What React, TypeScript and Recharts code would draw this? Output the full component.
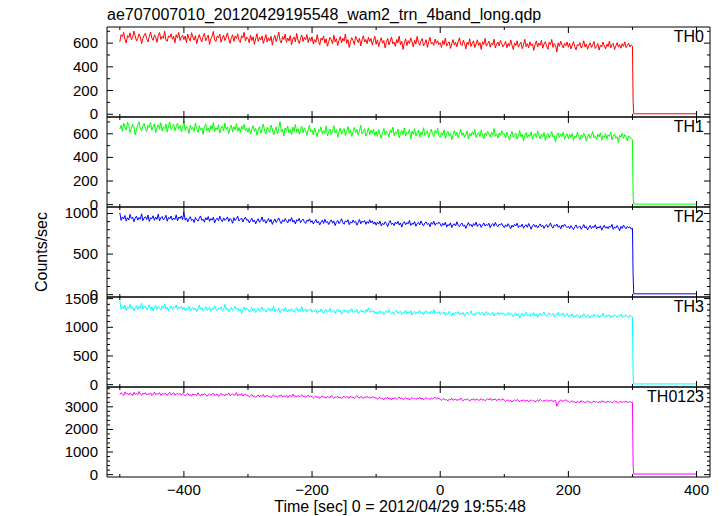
import React from 'react';
import { LineChart, Line, XAxis, YAxis } from 'recharts';

// light curve: 2 s bins from -500 s to 300 s, plus the tail after the drop
const T_START = -500;
const T_END = 300;
const TAIL_T = [301, 302, 400];

const TH0 = [
  612, 671, 655, 690, 634, 601, 663, 648, 687, 629, 645, 702, 660, 618, 639, 677, 652, 596, 641, 668, 683, 637, 610, 655, 694, 642, 623, 670, 651, 606, 664, 689, 631, 657, 640, 700, 626, 615, 662, 648, 679, 633, 658, 604, 671, 645, 690, 622, 653, 667,
  630, 659, 604, 676, 642, 617, 688, 651, 625, 663, 596, 640, 672, 634, 611, 657, 683, 620, 646, 668, 589, 637, 655, 699, 628, 613, 661, 644, 675, 607, 639, 666, 621, 652, 686, 633, 598, 647, 670, 615, 659, 640, 678, 624, 606, 662, 645, 691, 618, 650,
  641, 603, 667, 622, 654, 590, 636, 679, 615, 648, 627, 661, 598, 633, 672, 609, 645, 620, 657, 583, 638, 666, 612, 649, 694, 624, 601, 655, 631, 676, 607, 643, 619, 664, 586, 635, 652, 610, 681, 626, 597, 640, 668, 614, 650, 629, 673, 605, 646, 618,
  653, 592, 630, 608, 671, 619, 584, 642, 625, 660, 601, 637, 574, 615, 649, 628, 594, 666, 611, 638, 580, 622, 655, 603, 641, 617, 677, 598, 629, 563, 612, 646, 621, 588, 658, 634, 605, 643, 576, 627, 662, 609, 631, 595, 650, 614, 639, 585, 624, 657,
  590, 628, 571, 613, 646, 598, 622, 560, 607, 639, 585, 617, 652, 594, 609, 573, 631, 602, 660, 588, 615, 547, 603, 636, 579, 621, 597, 644, 610, 568, 625, 591, 657, 604, 582, 618, 638, 576, 600, 629, 565, 612, 648, 593, 606, 581, 634, 599, 620, 587,
  603, 564, 621, 588, 642, 575, 598, 611, 556, 594, 630, 583, 607, 569, 615, 645, 590, 578, 624, 597, 551, 609, 586, 636, 572, 600, 619, 563, 593, 628, 580, 604, 547, 612, 589, 640, 574, 596, 617, 566, 601, 585, 633, 559, 592, 610, 577, 622, 595, 568,
  589, 615, 561, 598, 574, 627, 583, 546, 602, 579, 620, 566, 591, 608, 553, 585, 632, 571, 596, 560, 611, 578, 594, 539, 587, 619, 569, 601, 582, 625, 557, 593, 612, 575, 548, 606, 588, 631, 564, 597, 580, 526, 603, 572, 616, 586, 559, 599, 577, 610,
  565, 598, 551, 583, 612, 570, 544, 589, 576, 605, 558, 581, 620, 567, 593, 549, 578, 602, 563, 586, 615, 555, 574, 597, 541, 584, 568, 609, 579, 552, 591, 571, 617, 560, 587, 599, 546, 575, 604, 566, 588, 557, 596, 573, 611, 562, 580, 601, 569, 585,
  575,
];
const TH1 = [
  640, 672, 621, 690, 655, 633, 699, 668, 612, 647, 681, 660, 590, 638, 676, 702, 649, 626, 665, 687, 643, 618, 671, 655, 696, 630, 662, 684, 609, 651, 677, 639, 694, 622, 658, 645, 683, 614, 667, 700, 636, 652, 679, 625, 661, 689, 642, 670, 617, 656,
  708, 628, 661, 645, 603, 674, 637, 655, 620, 689, 642, 611, 668, 631, 650, 596, 663, 682, 624, 647, 613, 670, 639, 695, 618, 652, 634, 677, 606, 644, 665, 625, 691, 638, 657, 600, 648, 673, 616, 660, 633, 686, 621, 654, 610, 667, 640, 679, 627, 646,
  611, 652, 598, 637, 670, 619, 645, 587, 629, 660, 604, 641, 683, 622, 596, 655, 633, 612, 674, 640, 589, 626, 658, 601, 645, 702, 618, 637, 580, 649, 625, 666, 606, 634, 592, 657, 621, 679, 613, 643, 598, 631, 664, 608, 650, 627, 586, 639, 672, 615,
  630, 589, 647, 612, 574, 636, 620, 659, 597, 628, 603, 665, 582, 618, 641, 593, 625, 668, 607, 635, 571, 614, 650, 596, 627, 644, 585, 616, 662, 601, 633, 577, 620, 654, 609, 638, 590, 624, 672, 599, 617, 643, 580, 612, 651, 594, 629, 605, 640, 586,
  619, 577, 636, 598, 561, 612, 645, 589, 624, 603, 571, 633, 608, 655, 584, 617, 596, 640, 565, 606, 628, 591, 649, 579, 613, 600, 637, 558, 622, 595, 643, 582, 609, 631, 570, 616, 593, 651, 586, 605, 624, 567, 611, 639, 598, 576, 627, 604, 646, 583,
  572, 610, 588, 633, 561, 599, 621, 579, 605, 548, 592, 627, 583, 614, 566, 601, 640, 586, 609, 570, 596, 624, 555, 603, 581, 617, 592, 638, 568, 598, 611, 576, 630, 589, 557, 606, 584, 622, 597, 571, 613, 590, 645, 578, 600, 563, 608, 587, 626, 593,
  599, 563, 614, 580, 547, 592, 620, 571, 588, 605, 556, 583, 628, 574, 596, 540, 587, 610, 566, 593, 578, 617, 551, 590, 602, 569, 625, 584, 558, 598, 575, 611, 544, 586, 603, 565, 594, 619, 572, 581, 530, 589, 607, 568, 597, 576, 613, 553, 585, 600,
  558, 594, 571, 603, 545, 580, 566, 612, 577, 549, 590, 568, 605, 583, 537, 575, 598, 561, 587, 620, 564, 579, 552, 596, 573, 608, 546, 585, 569, 601, 557, 591, 578, 614, 548, 582, 597, 563, 576, 526, 588, 571, 606, 559, 593, 574, 541, 584, 567, 562,
  550,
];
const TH2 = [
  1010, 915, 958, 932, 975, 906, 947, 921, 989, 938, 954, 899, 943, 967, 918, 951, 930, 996, 912, 944, 961, 925, 981, 903, 949, 936, 972, 916, 955, 929, 992, 910, 946, 963, 921, 940, 978, 905, 952, 934, 968, 917, 945, 926, 983, 909, 957, 938, 970, 923,
  1015, 918, 946, 897, 934, 960, 912, 928, 889, 951, 925, 906, 943, 970, 915, 930, 893, 948, 921, 962, 904, 936, 918, 954, 885, 927, 941, 910, 967, 923, 899, 945, 916, 932, 958, 902, 939, 921, 880, 949, 913, 935, 966, 907, 926, 944, 896, 931, 955, 917,
  925, 884, 913, 941, 897, 920, 873, 909, 936, 892, 915, 957, 901, 924, 880, 911, 938, 895, 927, 866, 906, 933, 889, 918, 946, 903, 875, 921, 899, 937, 910, 883, 928, 905, 950, 894, 916, 870, 922, 908, 940, 887, 913, 931, 898, 877, 919, 904, 935, 891,
  912, 871, 899, 926, 883, 905, 859, 894, 918, 877, 930, 888, 902, 864, 897, 921, 880, 908, 852, 891, 915, 874, 901, 935, 885, 868, 910, 893, 924, 862, 898, 881, 919, 889, 904, 856, 887, 927, 873, 906, 892, 914, 866, 900, 878, 923, 884, 909, 869, 896,
  856, 893, 869, 907, 847, 880, 862, 898, 875, 839, 886, 912, 865, 881, 851, 895, 870, 903, 858, 884, 832, 877, 899, 861, 888, 873, 915, 853, 879, 866, 901, 842, 876, 890, 859, 908, 871, 848, 883, 896, 864, 878, 837, 889, 868, 905, 855, 882, 872, 894,
  870, 841, 879, 856, 892, 833, 864, 850, 885, 827, 862, 873, 846, 898, 855, 838, 869, 881, 842, 860, 816, 857, 888, 849, 866, 835, 876, 853, 894, 840, 863, 871, 829, 858, 883, 845, 867, 852, 880, 824, 861, 875, 843, 890, 854, 837, 868, 859, 878, 846,
  826, 861, 838, 874, 845, 812, 856, 833, 867, 849, 880, 827, 851, 839, 869, 818, 847, 862, 830, 876, 841, 805, 853, 866, 835, 858, 822, 848, 872, 837, 855, 816, 844, 864, 829, 852, 884, 840, 820, 859, 846, 870, 831, 849, 811, 857, 836, 868, 843, 825,
  842, 813, 850, 826, 801, 837, 859, 819, 833, 845, 806, 830, 864, 821, 839, 798, 828, 852, 815, 841, 827, 861, 809, 835, 822, 848, 794, 831, 855, 818, 838, 812, 846, 829, 866, 804, 834, 820, 851, 825, 787, 840, 816, 856, 830, 811, 843, 824, 836, 808,
  818,
];
const TH3 = [
  1465, 1310, 1362, 1325, 1388, 1297, 1350, 1332, 1401, 1318, 1356, 1289, 1343, 1377, 1308, 1361, 1329, 1420, 1315, 1348, 1372, 1302, 1338, 1395, 1321, 1357, 1285, 1346, 1381, 1312, 1364, 1335, 1298, 1369, 1326, 1410, 1317, 1352, 1290, 1343, 1379, 1306, 1358, 1333, 1392, 1314, 1349, 1327, 1366, 1301,
  1352, 1290, 1331, 1307, 1368, 1283, 1324, 1346, 1299, 1337, 1272, 1319, 1385, 1305, 1341, 1288, 1326, 1360, 1296, 1314, 1349, 1278, 1330, 1302, 1372, 1311, 1293, 1340, 1316, 1357, 1281, 1322, 1398, 1300, 1335, 1269, 1318, 1345, 1292, 1327, 1364, 1306, 1338, 1284, 1323, 1242, 1309, 1351, 1297, 1333,
  1315, 1268, 1306, 1341, 1284, 1322, 1257, 1299, 1330, 1276, 1311, 1352, 1290, 1318, 1263, 1304, 1337, 1281, 1325, 1294, 1370, 1272, 1309, 1286, 1333, 1251, 1297, 1320, 1278, 1346, 1302, 1265, 1313, 1289, 1327, 1295, 1260, 1308, 1339, 1280, 1316, 1292, 1355, 1274, 1303, 1324, 1269, 1310, 1287, 1321,
  1259, 1297, 1271, 1310, 1243, 1284, 1266, 1322, 1279, 1236, 1291, 1305, 1262, 1287, 1331, 1254, 1276, 1299, 1240, 1283, 1315, 1268, 1294, 1229, 1275, 1308, 1261, 1289, 1247, 1302, 1280, 1326, 1257, 1285, 1270, 1313, 1238, 1277, 1296, 1264, 1288, 1250, 1306, 1272, 1341, 1258, 1282, 1267, 1300, 1245,
  1274, 1232, 1265, 1291, 1244, 1278, 1220, 1257, 1286, 1249, 1306, 1262, 1238, 1271, 1225, 1259, 1297, 1241, 1268, 1282, 1227, 1263, 1250, 1301, 1236, 1270, 1245, 1289, 1215, 1256, 1279, 1233, 1266, 1252, 1294, 1240, 1261, 1219, 1273, 1288, 1247, 1264, 1230, 1283, 1255, 1310, 1239, 1267, 1248, 1276,
  1221, 1259, 1234, 1270, 1206, 1245, 1226, 1281, 1238, 1199, 1252, 1217, 1263, 1240, 1275, 1211, 1247, 1229, 1258, 1193, 1236, 1266, 1224, 1249, 1287, 1215, 1242, 1203, 1256, 1232, 1271, 1220, 1244, 1260, 1208, 1239, 1278, 1226, 1251, 1214, 1235, 1267, 1197, 1246, 1228, 1262, 1218, 1253, 1233, 1241,
  1235, 1196, 1228, 1257, 1207, 1243, 1219, 1184, 1226, 1250, 1201, 1238, 1160, 1214, 1246, 1192, 1230, 1263, 1210, 1224, 1187, 1240, 1216, 1255, 1199, 1233, 1175, 1221, 1248, 1205, 1237, 1268, 1212, 1190, 1229, 1252, 1203, 1218, 1244, 1181, 1225, 1209, 1260, 1194, 1231, 1215, 1247, 1186, 1222, 1239,
  1182, 1216, 1193, 1231, 1170, 1205, 1188, 1226, 1199, 1161, 1211, 1185, 1238, 1196, 1174, 1219, 1203, 1157, 1208, 1190, 1229, 1178, 1201, 1215, 1166, 1206, 1186, 1242, 1195, 1172, 1213, 1191, 1224, 1163, 1200, 1183, 1220, 1197, 1176, 1210, 1189, 1233, 1168, 1204, 1181, 1217, 1192, 1159, 1207, 1194,
  1180,
];
const TH0123 = [
  3540, 3625, 3580, 3505, 3660, 3560, 3598, 3520, 3612, 3575, 3488, 3640, 3550, 3595, 3530, 3680, 3565, 3510, 3604, 3572, 3635, 3525, 3590, 3545, 3618, 3498, 3570, 3650, 3535, 3588, 3556, 3627, 3502, 3583, 3545, 3610, 3568, 3495, 3598, 3641, 3528, 3577, 3620, 3515, 3562, 3605, 3542, 3590, 3508, 3585,
  3560, 3482, 3545, 3601, 3510, 3538, 3470, 3575, 3520, 3552, 3495, 3620, 3530, 3478, 3566, 3512, 3590, 3540, 3465, 3528, 3583, 3505, 3548, 3612, 3490, 3535, 3571, 3458, 3522, 3595, 3516, 3550, 3480, 3562, 3530, 3607, 3497, 3541, 3574, 3508, 3526, 3630, 3485, 3553, 3519, 3588, 3474, 3537, 3565, 3501,
  3505, 3438, 3482, 3541, 3455, 3490, 3415, 3472, 3526, 3449, 3497, 3460, 3550, 3428, 3480, 3512, 3443, 3468, 3402, 3489, 3535, 3457, 3476, 3420, 3501, 3466, 3528, 3435, 3484, 3451, 3518, 3410, 3474, 3495, 3440, 3562, 3462, 3487, 3425, 3506, 3453, 3478, 3532, 3446, 3492, 3418, 3470, 3514, 3437, 3483,
  3445, 3390, 3432, 3478, 3405, 3452, 3368, 3425, 3490, 3412, 3440, 3381, 3461, 3420, 3398, 3507, 3430, 3375, 3448, 3415, 3472, 3393, 3437, 3356, 3426, 3466, 3402, 3451, 3418, 3383, 3480, 3409, 3436, 3372, 3444, 3497, 3413, 3387, 3458, 3428, 3365, 3441, 3405, 3469, 3395, 3433, 3378, 3455, 3417, 3400,
  3392, 3338, 3381, 3420, 3350, 3366, 3312, 3398, 3359, 3430, 3344, 3377, 3305, 3385, 3362, 3411, 3330, 3372, 3440, 3355, 3389, 3318, 3368, 3402, 3341, 3379, 3297, 3363, 3415, 3348, 3390, 3326, 3375, 3357, 3425, 3336, 3383, 3310, 3367, 3404, 3352, 3378, 3320, 3395, 3345, 3371, 3433, 3339, 3386, 3358,
  3345, 3281, 3330, 3362, 3298, 3321, 3260, 3340, 3305, 3376, 3292, 3318, 3350, 3275, 3326, 3301, 3389, 3310, 3268, 3335, 3297, 3358, 3315, 3252, 3328, 3305, 3370, 3288, 3324, 3345, 3279, 3313, 3360, 3296, 3332, 3265, 3319, 3352, 3300, 3381, 3284, 3327, 3307, 3348, 3271, 3316, 3339, 3293, 3325, 3357,
  3292, 3236, 3275, 3310, 3248, 3281, 3215, 3266, 3302, 3254, 3329, 3271, 3230, 3287, 3260, 3318, 3241, 3279, 3295, 3222, 3268, 3305, 3251, 3284, 3210, 3263, 3297, 3245, 3336, 3274, 3233, 3289, 3258, 3312, 3240, 3277, 3261, 3300, 3227, 3269, 3290, 3020, 3150, 3255, 3306, 3238, 3280, 3265, 3315, 3247,
  3245, 3190, 3231, 3268, 3202, 3226, 3170, 3250, 3214, 3185, 3278, 3209, 3238, 3176, 3222, 3259, 3195, 3232, 3163, 3217, 3262, 3204, 3240, 3183, 3228, 3192, 3271, 3211, 3246, 3174, 3220, 3255, 3198, 3236, 3180, 3213, 3264, 3201, 3229, 3168, 3219, 3244, 3188, 3225, 3207, 3252, 3178, 3216, 3233, 3196,
  3190,
];

const TAIL = {
  TH0: [110, 4, 4],
  TH1: [70, 4, 4],
  TH2: [250, 10, 10],
  TH3: [150, 12, 12],
  TH0123: [420, 25, 25],
};

const X_DOMAIN = [-520, 421];
const X_TICKS = [-500, -400, -300, -200, -100, 0, 100, 200, 300, 400];
const X_LABELS = [-400, -200, 0, 200, 400];

const PANELS = [
  { name: 'TH0', values: TH0, tail: TAIL.TH0, color: '#ff0000', domain: [-23, 736], labels: [0, 200, 400, 600], minor: 100, max: 700 },
  { name: 'TH1', values: TH1, tail: TAIL.TH1, color: '#00ff00', domain: [-20, 742], labels: [0, 200, 400, 600], minor: 100, max: 700 },
  { name: 'TH2', values: TH2, tail: TAIL.TH2, color: '#0000ff', domain: [-29, 1080], labels: [0, 500, 1000], minor: 100, max: 1000 },
  { name: 'TH3', values: TH3, tail: TAIL.TH3, color: '#00ffff', domain: [-41, 1528], labels: [0, 500, 1000, 1500], minor: 100, max: 1500 },
  { name: 'TH0123', values: TH0123, tail: TAIL.TH0123, color: '#ff00ff', domain: [-105, 3877], labels: [0, 1000, 2000, 3000], minor: 200, max: 3800 },
];

const FONT = '"Liberation Sans", Arial, Helvetica, sans-serif';
const LEFT = 107;
const RIGHT = 710;
const TOP = 27;
const PH = 90;
const PAD = 12;

const fmt = (v: number) => (v < 0 ? '\u2212' + Math.abs(v) : String(v));

function buildRows(values: number[], tail: number[]) {
  const bin = (T_END - T_START) / (values.length - 1);
  const rows = values.map((v, i) => ({ t: T_START + i * bin, v }));
  TAIL_T.forEach((t, i) => rows.push({ t, v: tail[i] }));
  return rows;
}

function XTick(props: any) {
  const { x, y, payload, dir, showLabel } = props;
  const major = X_LABELS.includes(payload.value);
  const len = major ? 6 : 3;
  return (
    <g>
      <line x1={x} x2={x} y1={y} y2={y + dir * len} stroke="#000" strokeWidth={1} />
      {showLabel && major && (
        <text x={x} y={y + 18} textAnchor="middle" fontSize={15} fontFamily={FONT} fill="#000">
          {fmt(payload.value)}
        </text>
      )}
    </g>
  );
}

function YTick(props: any) {
  const { x, y, payload, dir, showLabel, labels } = props;
  const major = labels.includes(payload.value);
  const len = major ? 6 : 3;
  return (
    <g>
      <line x1={x} x2={x + dir * len} y1={y} y2={y} stroke="#000" strokeWidth={1} />
      {showLabel && major && (
        <text x={x - 9} y={y + 5} textAnchor="end" fontSize={15} fontFamily={FONT} fill="#000">
          {fmt(payload.value)}
        </text>
      )}
    </g>
  );
}

function Panel({ p, index }: { p: (typeof PANELS)[number]; index: number }) {
  const last = index === PANELS.length - 1;
  const rows = buildRows(p.values, p.tail);
  const yTicks: number[] = [];
  for (let v = 0; v <= p.max; v += p.minor) yTicks.push(v);
  const bottomPad = last ? 40 : PAD;
  const common = { type: 'number' as const, allowDataOverflow: true, interval: 0 as const, tickSize: 0, tickMargin: 0, tickLine: false, axisLine: { stroke: '#000' } };
  return (
    <div style={{ position: 'absolute', left: 0, top: TOP + index * PH - PAD }}>
      <LineChart
        width={722}
        height={PH + PAD + bottomPad}
        data={rows}
        margin={{ top: PAD - 1, right: 722 - RIGHT - 1, left: LEFT - 1, bottom: bottomPad - 1 }}
      >
        <XAxis
          {...common}
          xAxisId="b"
          dataKey="t"
          domain={X_DOMAIN}
          ticks={X_TICKS}
          height={1}
          tick={(tp: any) => <XTick {...tp} dir={-1} showLabel={last} />}
        />
        <XAxis
          {...common}
          xAxisId="t"
          orientation="top"
          dataKey="t"
          domain={X_DOMAIN}
          ticks={X_TICKS}
          height={1}
          tick={(tp: any) => <XTick {...tp} dir={1} showLabel={false} />}
        />
        <YAxis
          {...common}
          yAxisId="l"
          domain={p.domain}
          ticks={yTicks}
          width={1}
          tick={(tp: any) => <YTick {...tp} dir={1} showLabel labels={p.labels} />}
        />
        <YAxis
          {...common}
          yAxisId="r"
          orientation="right"
          domain={p.domain}
          ticks={yTicks}
          width={1}
          tick={(tp: any) => <YTick {...tp} dir={-1} showLabel={false} labels={p.labels} />}
        />
        <Line
          xAxisId="b"
          yAxisId="l"
          dataKey="v"
          type="linear"
          stroke={p.color}
          strokeWidth={1}
          dot={false}
          activeDot={false}
          isAnimationActive={false}
        />
        <Line
          xAxisId="t"
          yAxisId="r"
          dataKey="v"
          type="linear"
          stroke="none"
          dot={false}
          activeDot={false}
          isAnimationActive={false}
        />
      </LineChart>
      <div
        style={{
          position: 'absolute',
          right: 722 - 704,
          top: PAD + 1,
          fontFamily: FONT,
          fontSize: 16,
          lineHeight: '18px',
          color: '#000',
        }}
      >
        {p.name}
      </div>
    </div>
  );
}

export default function App() {
  return (
    <div style={{ position: 'absolute', left: 0, top: 0, width: 722, height: 516, background: '#fff', fontFamily: FONT }}>
      <div style={{ position: 'absolute', left: LEFT, top: 5, fontSize: 16, lineHeight: '20px', color: '#000' }}>
        ae707007010_20120429195548_wam2_trn_4band_long.qdp
      </div>
      <div
        style={{
          position: 'absolute',
          left: 42,
          top: 252,
          fontSize: 16,
          lineHeight: '18px',
          whiteSpace: 'nowrap',
          transform: 'translate(-50%, -50%) rotate(-90deg)',
          color: '#000',
        }}
      >
        Counts/sec
      </div>
      {PANELS.map((p, i) => (
        <Panel key={p.name} p={p} index={i} />
      ))}
      <div
        style={{
          position: 'absolute',
          left: 400,
          top: 497,
          fontSize: 16,
          lineHeight: '20px',
          whiteSpace: 'nowrap',
          transform: 'translateX(-50%)',
          color: '#000',
        }}
      >
        Time [sec] 0 = 2012/04/29 19:55:48
      </div>
    </div>
  );
}
